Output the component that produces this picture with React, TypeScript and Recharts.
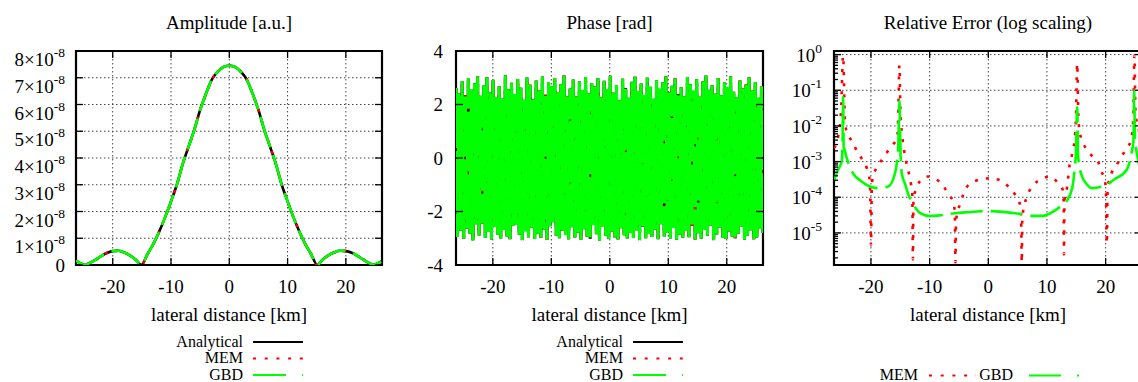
import { CartesianGrid, Legend, Line, LineChart, ReferenceArea, XAxis, YAxis } from "recharts"

const FONT = '"Liberation Serif", "Times New Roman", serif'
const BLACK = "#000000"
const RED = "#ff0000"
const GREEN = "#00ff00"
const GRID = "#444444"

// lateral distance range shown on every panel [km]
const X_MIN = -26.3
const X_MAX = 26.2
const xTicks = [-20, -10, 0, 10, 20]

// Amplitude panel, values in units of 1e-8 a.u.
const amplitudeKm = [
    -26.3, -26, -25, -24.7, -24, -23, -22, -21, -20, -19, -18, -17, -16, -15.1, -14, -13, -12, -11, -10, -9, -8, -7,
    -6, -5, -4, -3, -2, -1, 0, 1, 2, 3, 4, 5, 6, 7, 8, 9, 10, 11, 12, 13, 14, 15.1, 16, 17, 18, 19, 20, 21, 22, 23, 24,
    24.8, 25, 26, 26.2,
]
const amplitudeE8 = [
    0.17, 0.12, 0.02, 0.0, 0.07, 0.19, 0.33, 0.45, 0.52, 0.53, 0.47, 0.35, 0.19, 0.0, 0.42, 0.8, 1.26, 1.79, 2.38, 3.0,
    3.77, 4.42, 5.05, 5.8, 6.4, 6.93, 7.22, 7.4, 7.45, 7.4, 7.22, 6.93, 6.4, 5.8, 5.05, 4.42, 3.77, 3.0, 2.38, 1.79,
    1.26, 0.8, 0.42, 0.0, 0.2, 0.36, 0.47, 0.53, 0.52, 0.46, 0.34, 0.2, 0.07, 0.0, 0.02, 0.12, 0.15,
]
const amplitudeTicks = [0, 1, 2, 3, 4, 5, 6, 7, 8]

// Phase panel [rad], samples evenly spaced over the x range
const phaseValues = [
    2.62, -2.95, 2.41, -2.71, 2.88, -3.02, 2.35, -2.64, 2.97, -2.83,
    2.55, -3.08, 2.79, -2.48, 3.06, -2.9, 2.33, -2.45, 2.71, -2.99,
    3.02, -2.77, 2.46, -3.05, 2.92, -2.58, 2.28, -2.86, 2.68, -3.01,
    2.24, -2.69, 3.09, -2.93, 2.57, -3.04, 2.81, -2.52, 2.39, -2.5,
    2.95, -2.87, 2.63, -3.07, 2.18, -2.74, 3.01, -2.96, 2.74, -2.61,
    2.2, -3.03, 2.9, -2.82, 2.52, -2.98, 3.05, -2.67, 2.36, -3.06,
    2.84, -2.55, 2.69, -2.4, 2.99, -2.91, 2.47, -3.0, 2.77, -2.72,
    3.08, -2.88, 2.3, -3.04, 2.6, -2.59, 2.93, -2.97, 2.3, -2.79,
    2.86, -3.06, 2.54, -2.66, 3.03, -2.94, 2.42, -3.02, 2.8, -2.5,
    2.67, -2.85, 2.98, -3.08, 2.27, -2.55, 2.89, -2.92, 2.58, -3.03,
    3.07, -2.76, 2.44, -2.97, 2.73, -3.05, 2.16, -2.63, 2.96, -2.89,
    2.61, -3.01, 2.25, -2.8, 2.85, -2.99, 3.04, -2.7, 2.5, -3.07,
    2.78, -2.57, 2.35, -3.0, 3.0, -2.84, 2.66, -2.95, 2.21, -2.68,
    2.91, -3.04, 2.59, -2.48, 2.83, -2.93, 3.06, -2.78, 2.45, -3.01,
    2.7, -2.62, 2.97, -3.06, 2.38, -2.87, 2.64, -2.98, 2.31, -2.73,
    3.03, -2.96, 2.76, -2.54, 2.51, -3.05, 2.94, -2.81, 2.29, -3.02,
    2.87, -2.69, 3.08, -2.91, 2.55, -2.52, 2.72, -3.07, 2.4, -2.86,
    2.99, -2.6, 2.34, -2.99, 2.82, -3.03, 2.65, -2.75, 3.05, -2.94,
    2.48, -3.0, 2.26, -2.83, 2.9, -2.56, 2.6, -3.06, 2.75, -2.9,
    3.02, -2.7, 2.52, -3.04, 2.84, -2.97, 2.25, -2.65, 2.68, -2.8,
]
const phaseTicks = [-4, -2, 0, 2, 4]

// Relative error panel (log scale)
const memKm = [
    -26.3, -25.6, -25.1, -24.75, -24.4, -23.8, -22.9, -22.2, -21.4, -20.7, -20.3, -20.15, -20.0, -19.85, -19.75, -19.1,
    -18.1, -17.4, -16.3, -15.5, -15.35, -15.15, -14.95, -14.75, -14.6, -14.0, -13.6, -13.2, -12.95, -12.85, -12.75,
    -12.45, -11.7, -10.3, -8.75, -7.6, -6.74, -5.9, -5.7, -5.6, -5.5, -5.4, -4.85, -3.6, -3.0, -1.6, 0.1, 1.8, 3.15, 4.4,
    5.27, 5.6, 5.7, 5.8, 6.1, 6.6, 7.7, 9.0, 10.6, 11.8, 12.7, 12.85, 12.9, 13.0, 13.4, 13.9, 14.4, 14.7, 14.95, 15.15,
    15.35, 15.6, 17.3, 18.7, 19.3, 19.85, 20.05, 20.2, 20.35, 21.0, 21.85, 22.7, 23.6, 24.4, 24.7, 24.9, 25.1, 25.5, 26.2,
]
const memErr = [
    2.4e-3, 5e-3, 2.5e-2, 0.93, 1.05e-2, 5.5e-3, 2.9e-3, 1.7e-3, 1.1e-3, 6.5e-4, 3.8e-4, 2e-4, 4.5e-6, 2.2e-4, 3.1e-4,
    6.5e-4, 1.15e-3, 1.7e-3, 2.9e-3, 5e-3, 2e-2, 0.5, 1.8e-2, 6.9e-3, 4e-3, 1e-3, 5.2e-4, 2.5e-4, 1.1e-4, 1.8e-6, 1e-4,
    1.45e-4, 2.75e-4, 3.8e-4, 3.1e-4, 2e-4, 1.17e-4, 6.9e-5, 3e-5, 1.5e-6, 2e-5, 2.9e-5, 6.2e-5, 2e-4, 2.45e-4, 3.1e-4,
    3.4e-4, 3.1e-4, 2.2e-4, 1.3e-4, 7.6e-5, 2.5e-5, 1.5e-6, 2.5e-5, 5.5e-5, 1.05e-4, 2.2e-4, 3.2e-4, 3.8e-4, 2.6e-4,
    1.6e-4, 8e-5, 2.5e-6, 9e-5, 1.8e-4, 8.9e-4, 1.9e-3, 4e-3, 1.8e-2, 0.56, 2e-2, 6.2e-3, 1.7e-3, 1e-3, 5.2e-4, 3.1e-4,
    1.5e-4, 5e-6, 1.8e-4, 4.7e-4, 7.9e-4, 1.4e-3, 2.3e-3, 4.5e-3, 1.5e-2, 0.95, 2e-2, 1e-2, 2.5e-3,
]
const gbdKm = [
    -26.3, -25.6, -25.0, -24.85, -24.75, -24.65, -24.5, -24.2, -23.6, -23.05, -21.6, -20.2, -18.75, -17.05, -15.9, -15.6,
    -15.35, -15.15, -14.95, -14.75, -14.15, -13.6, -13.05, -11.6, -10.0, -8.3, -6.1, -4.55, -2.0, 0, 2.5, 4.9, 7.7, 9.2,
    10.6, 12.3, 13.3, 14.3, 14.7, 14.95, 15.15, 15.3, 15.45, 16.0, 16.9, 17.55, 19.85, 21.4, 23.6, 24.4, 24.75, 24.87,
    25.0, 25.15, 25.6, 26.2,
]
const gbdErr = [
    3.1e-4, 5.9e-4, 1e-3, 2.6e-3, 6.5e-2, 2.6e-3, 2.2e-3, 1.4e-3, 7.2e-4, 4.7e-4, 2.75e-4, 2e-4, 1.8e-4, 2e-4, 4.7e-4,
    8.9e-4, 2.5e-3, 5.2e-2, 1.5e-3, 4.7e-4, 2.25e-4, 1.17e-4, 7.6e-5, 3.6e-5, 3e-5, 3.1e-5, 3.5e-5, 3.7e-5, 4e-5, 4.1e-5,
    3.9e-5, 3.5e-5, 3e-5, 3e-5, 3.6e-5, 5.5e-5, 7.6e-5, 1.8e-4, 5.9e-4, 2e-3, 3.4e-2, 1.5e-3, 8.9e-4, 3.8e-4, 2.2e-4,
    1.8e-4, 2.1e-4, 3.1e-4, 5.9e-4, 1.7e-3, 4e-3, 0.1, 4e-3, 2.5e-3, 1e-3, 4e-4,
]
const LOG_MIN = 1.26e-6
const LOG_MAX = 1.26
const logMajorTicks = [1e-5, 1e-4, 1e-3, 1e-2, 1e-1, 1]

const seriesStyle = {
    analytical: { name: "Analytical", color: BLACK, dash: undefined as string | undefined },
    mem: { name: "MEM", color: RED, dash: "3 8" },
    gbd: { name: "GBD", color: GREEN, dash: "32 8" },
}
// the phase band is so dense that the green dash gaps hardly show
const PHASE_GBD_DASH = "60 3"

// chart geometry
const CHART_W = 400
const CHART_H = 382
const PLOT_TOP = 51
const PLOT_BOTTOM = 265
const AXIS_W = 76
const XAXIS_H = 40

type Frame = { left: number; right: number; top: number; bottom: number; labelGap: number }

const makeFrame = (right: number, labelGap: number): Frame => ({
    left: AXIS_W,
    right,
    top: PLOT_TOP,
    bottom: PLOT_BOTTOM,
    labelGap,
})

const amplitudeData = amplitudeKm.map((x, i) => ({ x, a: amplitudeE8[i] }))
const phaseStep = (X_MAX - X_MIN) / (phaseValues.length - 1)
const phaseData = phaseValues.map((p, i) => ({ x: X_MIN + i * phaseStep, p }))
const memData = memKm.map((x, i) => ({ x, e: memErr[i] }))
const gbdData = gbdKm.map((x, i) => ({ x, e: gbdErr[i] }))

const logTicks: number[] = []
for (let k = -6; k <= 0; k++) {
    for (let m = 1; m <= 9; m++) {
        const v = m * Math.pow(10, k)
        if (v >= LOG_MIN && v <= LOG_MAX) logTicks.push(v)
    }
}

const xTick = (frame: Frame) => (props: any) => {
    const x = props.x
    return (
        <g>
            <line x1={x} x2={x} y1={frame.bottom} y2={frame.bottom - 7} stroke={BLACK} strokeWidth={1.3} />
            <line x1={x} x2={x} y1={frame.top} y2={frame.top + 7} stroke={BLACK} strokeWidth={1.3} />
            <text x={x} y={frame.bottom + 28} textAnchor="middle" fontSize={19} fontFamily={FONT} fill={BLACK}>
                {props.payload.value}
            </text>
        </g>
    )
}

const yTickLines = (frame: Frame, y: number, len: number) => (
    <>
        <line x1={frame.left} x2={frame.left + len} y1={y} y2={y} stroke={BLACK} strokeWidth={1.3} />
        <line x1={frame.right - len} x2={frame.right} y1={y} y2={y} stroke={BLACK} strokeWidth={1.3} />
    </>
)

const amplitudeTick = (frame: Frame) => (props: any) => {
    const y = props.y
    const n = Math.round(props.payload.value)
    const lx = frame.left - frame.labelGap
    return (
        <g>
            {yTickLines(frame, y, 7)}
            {n === 0 ? (
                <text x={lx} y={y + 6.5} textAnchor="end" fontSize={19} fontFamily={FONT} fill={BLACK}>
                    0
                </text>
            ) : (
                <text x={lx} y={y + 15} textAnchor="end" fontSize={19} fontFamily={FONT} fill={BLACK}>
                    {n}×10
                    <tspan dy={-9} fontSize={13.5}>
                        -8
                    </tspan>
                </text>
            )}
        </g>
    )
}

const phaseTick = (frame: Frame) => (props: any) => {
    const y = props.y
    return (
        <g>
            {yTickLines(frame, y, 7)}
            <text x={frame.left - frame.labelGap} y={y + 6.5} textAnchor="end" fontSize={19} fontFamily={FONT} fill={BLACK}>
                {props.payload.value}
            </text>
        </g>
    )
}

const logTick = (frame: Frame) => (props: any) => {
    const y = props.y
    const v = props.payload.value
    const exp = Math.round(Math.log10(v))
    const major = logMajorTicks.some((t) => Math.abs(t - v) / t < 1e-6)
    return (
        <g>
            {yTickLines(frame, y, major ? 7 : 4)}
            {major && (
                <text x={frame.left - frame.labelGap} y={y + 7} textAnchor="end" fontSize={19} fontFamily={FONT} fill={BLACK}>
                    10
                    <tspan dy={-9} fontSize={13.5}>
                        {exp}
                    </tspan>
                </text>
            )}
        </g>
    )
}

const captions = (title: string) => (props: any) => {
    const vb = props.viewBox
    const cx = vb.x + vb.width / 2
    return (
        <g>
            <text x={cx} y={29} textAnchor="middle" fontSize={19} fontFamily={FONT} fill={BLACK}>
                {title}
            </text>
            <text x={cx} y={321} textAnchor="middle" fontSize={19} fontFamily={FONT} fill={BLACK}>
                lateral distance [km]
            </text>
        </g>
    )
}

const stackedLegend = () => {
    const rows = [seriesStyle.analytical, seriesStyle.mem, seriesStyle.gbd]
    const legendDash = ["", "3 8.7", "33 16"]
    return (
        <svg width={180} height={52}>
            {rows.map((s, i) => (
                <g key={s.name}>
                    <text x={103} y={16.5 + i * 16.5} textAnchor="end" fontSize={16} fontFamily={FONT} fill={BLACK}>
                        {s.name}
                    </text>
                    <line
                        x1={113}
                        x2={163}
                        y1={12 + i * 16.5}
                        y2={12 + i * 16.5}
                        stroke={s.color}
                        strokeWidth={2}
                        strokeDasharray={legendDash[i] || undefined}
                    />
                </g>
            ))}
        </svg>
    )
}

const inlineLegend = () => (
    <svg width={230} height={20}>
        <text x={50} y={17.5} textAnchor="end" fontSize={16} fontFamily={FONT} fill={BLACK}>
            {seriesStyle.mem.name}
        </text>
        <line x1={61} x2={108} y1={13.5} y2={13.5} stroke={RED} strokeWidth={2} strokeDasharray="3 8.7" />
        <text x={145} y={17.5} textAnchor="end" fontSize={16} fontFamily={FONT} fill={BLACK}>
            {seriesStyle.gbd.name}
        </text>
        <line x1={161} x2={211} y1={13.5} y2={13.5} stroke={GREEN} strokeWidth={2} strokeDasharray="32 16" />
    </svg>
)

function AmplitudePanel() {
    const frame = makeFrame(382, 11)
    return (
        <LineChart
            width={CHART_W}
            height={CHART_H}
            data={amplitudeData}
            margin={{ top: PLOT_TOP, right: CHART_W - frame.right, bottom: CHART_H - PLOT_BOTTOM - XAXIS_H, left: 0 }}
        >
            <CartesianGrid stroke={GRID} strokeDasharray="1.5 2.5" />
            <XAxis
                dataKey="x"
                type="number"
                domain={[X_MIN, X_MAX]}
                ticks={xTicks}
                interval={0}
                allowDataOverflow
                height={XAXIS_H}
                axisLine={false}
                tickLine={false}
                tick={xTick(frame)}
                label={{ content: captions("Amplitude [a.u.]") }}
            />
            <YAxis
                type="number"
                domain={[0, 8]}
                ticks={amplitudeTicks}
                interval={0}
                allowDataOverflow
                width={AXIS_W}
                axisLine={false}
                tickLine={false}
                tick={amplitudeTick(frame)}
            />
            <Line type="monotone" dataKey="a" stroke={BLACK} strokeWidth={2.6} dot={false} isAnimationActive={false} />
            <Line type="monotone" dataKey="a" stroke={RED} strokeWidth={2.6} strokeDasharray={seriesStyle.mem.dash} dot={false} isAnimationActive={false} />
            <Line type="monotone" dataKey="a" stroke={GREEN} strokeWidth={2.6} strokeDasharray={seriesStyle.gbd.dash} dot={false} isAnimationActive={false} />
            <ReferenceArea x1={X_MIN} x2={X_MAX} y1={0} y2={8} fill="none" stroke={BLACK} strokeWidth={2.2} ifOverflow="visible" />
            <Legend
                layout="horizontal"
                verticalAlign="middle"
                align="center"
                content={stackedLegend}
                wrapperStyle={{ left: 140, top: 330, width: 180, height: 52 }}
            />
        </LineChart>
    )
}

function PhasePanel() {
    const frame = makeFrame(383, 13)
    return (
        <LineChart
            width={CHART_W}
            height={CHART_H}
            data={phaseData}
            margin={{ top: PLOT_TOP, right: CHART_W - frame.right, bottom: CHART_H - PLOT_BOTTOM - XAXIS_H, left: 0 }}
        >
            <CartesianGrid stroke={GRID} strokeDasharray="1.5 2.5" />
            <XAxis
                dataKey="x"
                type="number"
                domain={[X_MIN, X_MAX]}
                ticks={xTicks}
                interval={0}
                allowDataOverflow
                height={XAXIS_H}
                axisLine={false}
                tickLine={false}
                tick={xTick(frame)}
                label={{ content: captions("Phase [rad]") }}
            />
            <YAxis
                type="number"
                domain={[-4, 4]}
                ticks={phaseTicks}
                interval={0}
                allowDataOverflow
                width={AXIS_W}
                axisLine={false}
                tickLine={false}
                tick={phaseTick(frame)}
            />
            <Line type="linear" dataKey="p" stroke={BLACK} strokeWidth={3} dot={false} isAnimationActive={false} />
            <Line type="linear" dataKey="p" stroke={RED} strokeWidth={3} strokeDasharray={seriesStyle.mem.dash} dot={false} isAnimationActive={false} />
            <Line type="linear" dataKey="p" stroke={GREEN} strokeWidth={3} strokeDasharray={PHASE_GBD_DASH} dot={false} isAnimationActive={false} />
            <ReferenceArea x1={X_MIN} x2={X_MAX} y1={-4} y2={4} fill="none" stroke={BLACK} strokeWidth={2.2} ifOverflow="visible" />
            <Legend
                layout="horizontal"
                verticalAlign="middle"
                align="center"
                content={stackedLegend}
                wrapperStyle={{ left: 140, top: 330, width: 180, height: 52 }}
            />
        </LineChart>
    )
}

function ErrorPanel() {
    const frame = makeFrame(384, 12)
    return (
        <LineChart
            width={CHART_W}
            height={CHART_H}
            margin={{ top: PLOT_TOP, right: CHART_W - frame.right, bottom: CHART_H - PLOT_BOTTOM - XAXIS_H, left: 0 }}
        >
            <CartesianGrid stroke={GRID} strokeDasharray="1.5 2.5" horizontalValues={logMajorTicks} />
            <XAxis
                dataKey="x"
                type="number"
                domain={[X_MIN, X_MAX]}
                ticks={xTicks}
                interval={0}
                allowDataOverflow
                height={XAXIS_H}
                axisLine={false}
                tickLine={false}
                tick={xTick(frame)}
                label={{ content: captions("Relative Error (log scaling)") }}
            />
            <YAxis
                type="number"
                scale="log"
                domain={[LOG_MIN, LOG_MAX]}
                ticks={logTicks}
                interval={0}
                allowDataOverflow
                width={AXIS_W}
                axisLine={false}
                tickLine={false}
                tick={logTick(frame)}
            />
            <Line data={memData} type="monotone" dataKey="e" stroke={RED} strokeWidth={2.6} strokeDasharray={seriesStyle.mem.dash} dot={false} isAnimationActive={false} />
            <Line data={gbdData} type="monotone" dataKey="e" stroke={GREEN} strokeWidth={2.6} strokeDasharray={seriesStyle.gbd.dash} dot={false} isAnimationActive={false} />
            <ReferenceArea x1={X_MIN} x2={X_MAX} y1={LOG_MIN} y2={LOG_MAX} fill="none" stroke={BLACK} strokeWidth={2.2} ifOverflow="visible" />
            <Legend
                layout="horizontal"
                verticalAlign="middle"
                align="center"
                content={inlineLegend}
                wrapperStyle={{ left: 110, top: 362, width: 230, height: 20 }}
            />
        </LineChart>
    )
}

export default function App() {
    return (
        <div
            style={{
                position: "fixed",
                left: 0,
                top: 0,
                width: 1138,
                height: 382,
                overflow: "hidden",
                background: "#ffffff",
                fontFamily: FONT,
            }}
        >
            <div style={{ position: "absolute", left: 0, top: 0 }}>
                <AmplitudePanel />
            </div>
            <div style={{ position: "absolute", left: 380, top: 0 }}>
                <PhasePanel />
            </div>
            <div style={{ position: "absolute", left: 758, top: 0 }}>
                <ErrorPanel />
            </div>
        </div>
    )
}
